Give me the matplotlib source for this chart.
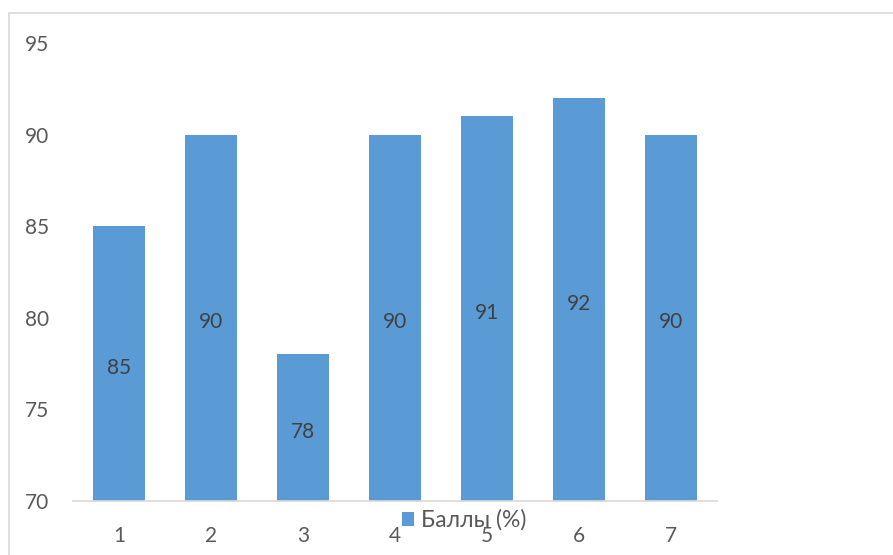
import matplotlib
matplotlib.use("Agg")
import matplotlib.pyplot as plt
from matplotlib.patches import Rectangle

categories = ["1", "2", "3", "4", "5", "6", "7"]
values = [85, 90, 78, 90, 91, 92, 90]
yticks = [70, 75, 80, 85, 90, 95]
series_name = "Баллы (%)"

plt.rcParams['font.family'] = ['Lato', 'Open Sans', 'DejaVu Sans']

fig = plt.figure(figsize=(8.93, 5.55), dpi=100)
fig.patches.append(Rectangle((9/893, -0.1), 1.2, (555-13)/555 + 0.1, transform=fig.transFigure,
                             fill=False, edgecolor="#d9d9d9", linewidth=1.2))
ax = fig.add_axes([73/893, 54/555, (717-73)/893, (501-43)/555])

x = list(range(len(categories)))
bars = ax.bar(x, [v - 70 for v in values], bottom=70, width=0.565, color="#5B9BD5", label=series_name)
ax.set_xlim(-0.5, len(categories) - 0.5)
ax.set_ylim(70, 95)
ax.set_yticks(yticks)
ax.set_xticks(x)
ax.set_xticklabels(categories)

for xi, v in zip(x, values):
    ax.annotate(str(v), (xi, (70 + v) / 2), xytext=(0, -3), textcoords="offset points",
                ha="center", va="center", fontsize=15, color="#404040")

for s in ["top", "right", "left"]:
    ax.spines[s].set_visible(False)
ax.spines["bottom"].set_color("#d9d9d9")
ax.spines["bottom"].set_linewidth(1.2)
ax.tick_params(axis="both", length=0, labelsize=15, labelcolor="#595959")
ax.tick_params(axis="y", pad=17)
ax.tick_params(axis="x", pad=18)

leg = fig.legend(loc="center", bbox_to_anchor=(464/893, 1 - 520/555), frameon=False,
                 fontsize=16.5, handlelength=0.55, handleheight=0.55, handletextpad=0.3,
                 labelcolor="#595959")

fig.savefig("out.png", dpi=100)
